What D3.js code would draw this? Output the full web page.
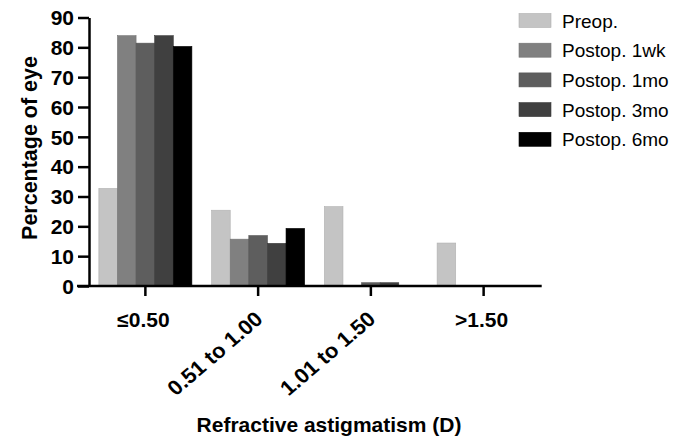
<!DOCTYPE html>
<html>
<head>
<meta charset="utf-8">
<script src="https://cdn.jsdelivr.net/npm/d3@7"></script>
<style>
  body { margin: 0; background: #fff; }
  svg text { font-family: "Liberation Sans", Arial, sans-serif; fill: #000; }
</style>
</head>
<body>
<div id="chart"></div>
<script>
// data (percentage of eyes)
const categories = ["≤0.50", "0.51 to 1.00", "1.01 to 1.50", ">1.50"];
const seriesNames = ["Preop.", "Postop. 1wk", "Postop. 1mo", "Postop. 3mo", "Postop. 6mo"];
const preop = [32.7, 25.4, 26.6, 14.4];
const postop1wk = [83.9, 15.7, 0, 0];
const postop1mo = [81.4, 16.9, 1.1, 0];
const postop3mo = [83.9, 14.3, 1.1, 0];
const postop6mo = [80.3, 19.3, 0, 0];
const yTicks = [0, 10, 20, 30, 40, 50, 60, 70, 80, 90];

const allSeries = [preop, postop1wk, postop1mo, postop3mo, postop6mo];
const colors = ["#c4c4c4", "#808080", "#5e5e5e", "#404040", "#000000"];

const W = 686, H = 439;
const sx = 1.05; // text in the picture looks a bit wide

const svg = d3.select("#chart").append("svg")
    .attr("width", W)
    .attr("height", H);

const x0 = d3.scaleBand()
    .domain(categories)
    .range([89, 540])
    .paddingInner(0.175)
    .paddingOuter(0.0875);

const x1 = d3.scaleBand()
    .domain(seriesNames)
    .range([0, x0.bandwidth()]);

const y = d3.scaleLinear()
    .domain([0, 90])
    .range([286, 17.5]);

// bars
const groups = svg.selectAll(".grp")
    .data(categories)
    .enter()
    .append("g")
    .attr("class", "grp")
    .attr("transform", d => `translate(${x0(d)},0)`);

groups.selectAll("rect")
    .data((c, ci) => seriesNames.map((s, si) => ({ s: s, si: si, v: allSeries[si][ci] })))
    .enter()
    .append("rect")
    .attr("x", d => x1(d.s))
    .attr("width", x1.bandwidth())
    .attr("y", d => y(d.v))
    .attr("height", d => y(0) - y(d.v))
    .attr("fill", d => colors[d.si])
    .attr("stroke", d => d3.color(colors[d.si]).darker(0.3))
    .attr("stroke-width", d => d.v > 0 ? 0.6 : 0);

// y axis
const yAxis = svg.append("g")
    .attr("transform", "translate(89,0)")
    .call(d3.axisLeft(y).tickValues(yTicks).tickSize(11).tickSizeOuter(0).tickPadding(3));
yAxis.select(".domain").attr("stroke", "#000").attr("stroke-width", 2.5);
yAxis.selectAll(".tick line").attr("stroke", "#000").attr("stroke-width", 2.5);
yAxis.selectAll(".tick text")
    .attr("x", 0)
    .attr("dy", "0.36em")
    .attr("transform", `translate(-15,0) scale(${sx},1)`)
    .style("font-size", "20px")
    .style("font-weight", "bold")
    .attr("fill", "#000");

// x axis
const xAxis = svg.append("g")
    .attr("transform", "translate(0,286)")
    .call(d3.axisBottom(x0).tickSize(10).tickSizeOuter(0).tickFormat(""));
xAxis.select(".domain").attr("stroke", "#000").attr("stroke-width", 2.5).attr("d", "M77,0H541.7");
xAxis.selectAll(".tick line").attr("stroke", "#000").attr("stroke-width", 2.5);

// x tick labels, the long ones are tilted
categories.forEach(function(c) {
    const cx = x0(c) + x0.bandwidth() / 2;
    const t = svg.append("text")
        .text(c)
        .style("font-weight", "bold");
    if (c.length > 6) {
        t.attr("text-anchor", "end")
         .style("font-size", "21px")
         .attr("transform", `translate(${cx + 6},321) scale(${sx},1) rotate(-42)`);
    } else {
        t.attr("text-anchor", "middle")
         .style("font-size", "20px")
         .attr("transform", `translate(${cx - 2},327) scale(${sx},1)`);
    }
});

// axis titles
svg.append("text")
    .attr("text-anchor", "middle")
    .attr("transform", `translate(329,432) scale(${sx},1)`)
    .style("font-size", "20px")
    .style("font-weight", "bold")
    .text("Refractive astigmatism (D)");

svg.append("text")
    .attr("text-anchor", "middle")
    .attr("transform", `translate(37,148) scale(${sx},1) rotate(-90)`)
    .style("font-size", "21.5px")
    .style("font-weight", "bold")
    .text("Percentage of eye");

// legend
const legend = svg.selectAll(".legend")
    .data(seriesNames)
    .enter()
    .append("g")
    .attr("class", "legend")
    .attr("transform", (d, i) => `translate(519,${20.5 + i * 29.7})`);

legend.append("rect")
    .attr("x", 0)
    .attr("y", -7)
    .attr("width", 32)
    .attr("height", 14)
    .attr("fill", (d, i) => colors[i])
    .attr("stroke", (d, i) => d3.color(colors[i]).darker(0.3))
    .attr("stroke-width", 0.6);

legend.append("text")
    .attr("transform", `translate(43,7)`)
    .style("font-size", "19px")
    .attr("fill", "#111")
    .text(d => d);
</script>
</body>
</html>
